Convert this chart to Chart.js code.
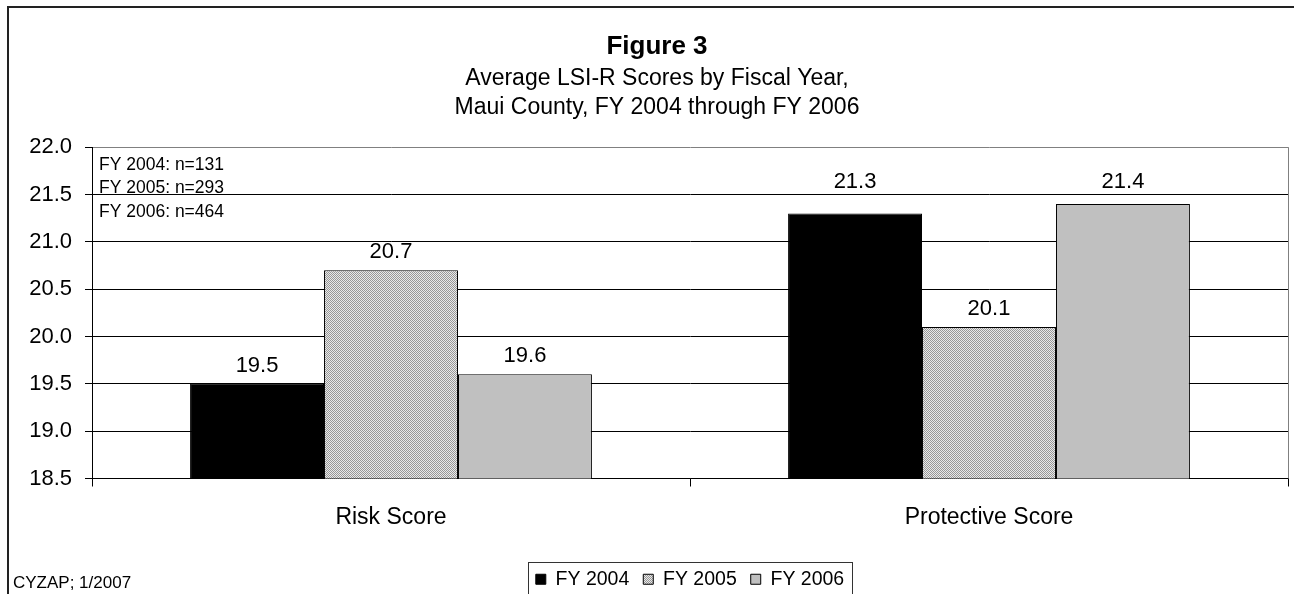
<!DOCTYPE html>
<html>
<head>
<meta charset="utf-8">
<title>Figure 3</title>
<script src="https://cdn.jsdelivr.net/npm/chart.js@4.4.1/dist/chart.umd.min.js"></script>
<style>
  html, body { margin: 0; padding: 0; background: #fff; overflow: hidden; }
  canvas { display: block; }
</style>
</head>
<body>
<canvas id="lsiChart" width="1294" height="599"></canvas>
<script>
// categorias e valores médios por ano fiscal
const categories = ['Risk Score', 'Protective Score'];
const fiscalYears = ['FY 2004', 'FY 2005', 'FY 2006'];
const fy2004 = [19.5, 21.3];
const fy2005 = [20.7, 20.1];
const fy2006 = [19.6, 21.4];
const yTicks = [18.5, 19.0, 19.5, 20.0, 20.5, 21.0, 21.5, 22.0];
const sampleNotes = ['FY 2004: n=131', 'FY 2005: n=293', 'FY 2006: n=464'];
const sourceNote = 'CYZAP; 1/2007';

const FONT = "'Liberation Sans', Arial, sans-serif";
Chart.defaults.font.family = FONT;
Chart.defaults.color = '#000';

// padrão pontilhado do FY 2005
function dotPattern() {
    const c = document.createElement('canvas');
    c.width = 2; c.height = 2;
    const g = c.getContext('2d');
    g.fillStyle = '#e9e9e9';
    g.fillRect(0, 0, 2, 2);
    g.fillStyle = '#979797';
    g.fillRect(0, 0, 1, 1);
    g.fillRect(1, 1, 1, 1);
    return g.createPattern(c, 'repeat');
}

// moldura, notas de n e fonte
const extras = {
    id: 'extras',
    beforeDraw(chart) {
        const ctx = chart.ctx;
        ctx.save();
        ctx.fillStyle = '#fff';
        ctx.fillRect(0, 0, chart.width, chart.height);
        ctx.strokeStyle = '#222';
        ctx.lineWidth = 2;
        ctx.beginPath();
        ctx.moveTo(8, chart.height + 5);
        ctx.lineTo(8, 7);
        ctx.lineTo(chart.width + 5, 7);
        ctx.stroke();
        ctx.restore();
    },
    afterDraw(chart) {
        const ctx = chart.ctx;
        const area = chart.chartArea;
        ctx.save();
        // borda direita da área do gráfico
        ctx.strokeStyle = '#808080';
        ctx.lineWidth = 1;
        ctx.beginPath();
        ctx.moveTo(area.right + 0.5, area.top);
        ctx.lineTo(area.right + 0.5, area.bottom);
        ctx.stroke();

        ctx.fillStyle = '#000';
        ctx.font = '17.5px ' + FONT;
        ctx.textAlign = 'left';
        ctx.textBaseline = 'middle';
        sampleNotes.forEach((t, i) => ctx.fillText(t, area.left + 7, area.top + 18 + i * 23.5));

        ctx.font = '17px ' + FONT;
        ctx.fillText(sourceNote, 13, 583);

        // caixa da legenda
        const lg = chart.legend;
        const boxes = lg.legendHitBoxes;
        if (boxes && boxes.length) {
            const first = boxes[0];
            const last = boxes[boxes.length - 1];
            const x0 = first.left - 8;
            const x1 = last.left + last.width + 8;
            const midY = first.top + first.height / 2;
            ctx.strokeStyle = '#333';
            ctx.lineWidth = 1;
            ctx.strokeRect(Math.round(x0) + 0.5, Math.round(midY - 17) + 0.5, Math.round(x1 - x0), 60);
        }
        ctx.restore();
    }
};

// rótulos de valor acima das barras; sobem quando cruzariam uma linha de grade
const valueLabels = {
    id: 'valueLabels',
    afterDatasetsDraw(chart) {
        const ctx = chart.ctx;
        const yScale = chart.scales.y;
        const gridYs = yTicks.map(v => yScale.getPixelForValue(v));
        ctx.save();
        ctx.fillStyle = '#000';
        ctx.font = '22px ' + FONT;
        ctx.textAlign = 'center';
        ctx.textBaseline = 'alphabetic';
        chart.data.datasets.forEach((ds, i) => {
            chart.getDatasetMeta(i).data.forEach((bar, j) => {
                let base = bar.y - 12;
                const hit = gridYs.find(g => g >= base - 16 && g <= base + 4);
                if (hit !== undefined) base = hit - 6;
                ctx.fillText(ds.data[j].toFixed(1), bar.x, base);
            });
        });
        ctx.restore();
    }
};

const ctx = document.getElementById('lsiChart').getContext('2d');
const lsiChart = new Chart(ctx, {
    type: 'bar',
    data: {
        labels: categories,
        datasets: [
            { label: fiscalYears[0], data: fy2004, backgroundColor: '#000000' },
            { label: fiscalYears[1], data: fy2005, backgroundColor: dotPattern() },
            { label: fiscalYears[2], data: fy2006, backgroundColor: '#c0c0c0' }
        ]
    },
    options: {
        responsive: false,
        animation: false,
        layout: { padding: { left: 26, right: 6, top: 0, bottom: 0 } },
        datasets: {
            bar: {
                borderColor: '#000',
                borderWidth: 1,
                barPercentage: 1,
                categoryPercentage: 0.672
            }
        },
        plugins: {
            title: {
                display: true,
                text: 'Figure 3',
                font: { size: 26, weight: 'bold' },
                color: '#000',
                padding: { top: 31, bottom: 2 }
            },
            subtitle: {
                display: true,
                text: ['Average LSI-R Scores by Fiscal Year,', 'Maui County, FY 2004 through FY 2006'],
                font: { size: 23, lineHeight: 1.26 },
                color: '#000',
                padding: { top: 0, bottom: 25 }
            },
            legend: {
                position: 'bottom',
                fullSize: false,
                labels: {
                    boxWidth: 10,
                    boxHeight: 10,
                    padding: 14,
                    color: '#000',
                    font: { size: 19.5 }
                }
            },
            tooltip: { enabled: false }
        },
        scales: {
            x: {
                grid: {
                    drawOnChartArea: false,
                    drawTicks: true,
                    tickLength: 8,
                    color: '#000',
                    offset: true
                },
                border: { color: '#000' },
                ticks: { font: { size: 23 }, padding: 17, color: '#000' },
                afterFit(scale) { scale.height = 77; }
            },
            y: {
                min: 18.5,
                max: 22,
                afterBuildTicks(scale) {
                    scale.ticks = yTicks.map(v => ({ value: v }));
                },
                grid: {
                    color: c => (c.tick && c.tick.value === 22 ? '#808080' : '#000'),
                    tickColor: '#000',
                    tickLength: 7
                },
                border: { color: '#000' },
                ticks: {
                    font: { size: 22 },
                    padding: 13,
                    color: '#000',
                    callback: v => Number(v).toFixed(1)
                },
                afterFit(scale) { scale.width = 66; }
            }
        }
    },
    plugins: [extras, valueLabels]
});
</script>
</body>
</html>
